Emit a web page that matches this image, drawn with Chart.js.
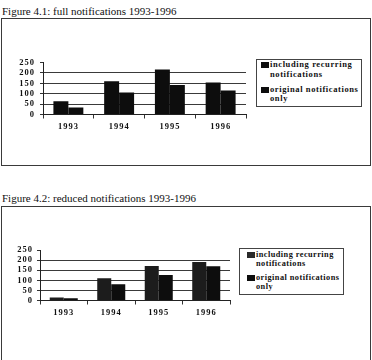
<!DOCTYPE html>
<html>
<head>
<meta charset="utf-8">
<script src="https://cdn.jsdelivr.net/npm/chart.js@4.4.0/dist/chart.umd.min.js"></script>
<style>
  body { margin:0; width:372px; height:360px; overflow:hidden; background:#fff; font-family:"Liberation Serif", serif; color:#111; }
  .title { position:absolute; left:2px; font-size:11px; line-height:11px; white-space:nowrap; }
  .frame { position:absolute; border:1.5px solid #3a3a3a; box-sizing:border-box; }
  .chart { position:absolute; }
  .legend { position:absolute; border:1px solid #444; box-sizing:border-box; font-weight:bold; }
  .legend .item { display:flex; align-items:flex-start; }
  .legend .sw { width:8px; height:6px; background:#111; flex:none; margin-top:2px; margin-right:1px; }
</style>
</head>
<body>
<div class="title" style="top:6px">Figure 4.1: full notifications 1993-1996</div>
<div class="frame" style="left:1px;top:18px;width:370px;height:148px"></div>
<div class="chart" style="left:0;top:40px;width:252px;height:100px"><canvas id="c1"></canvas></div>
<div class="legend" id="lg1" style="left:256px;top:59px;width:106px;height:48px;font-size:8.5px;line-height:9.5px;letter-spacing:.6px;padding:0 0 0 4px"></div>

<div class="title" style="top:193px">Figure 4.2: reduced notifications 1993-1996</div>
<div class="frame" style="left:1px;top:206px;width:370px;height:170px"></div>
<div class="chart" style="left:0;top:228px;width:236px;height:100px"><canvas id="c2"></canvas></div>
<div class="legend" id="lg2" style="left:239px;top:248px;width:105px;height:47px;font-size:8.3px;line-height:9.3px;letter-spacing:.45px;padding:1px 0 0 7px"></div>

<script>
const years = ['1993', '1994', '1995', '1996'];
const seriesLabels = ['including recurring notifications', 'original notifications only'];
const fullIncl = [64, 160, 216, 154];
const fullOrig = [34, 106, 142, 115];
const reducedIncl = [15, 110, 171, 190];
const reducedOrig = [11, 80, 126, 170];
const yTicks = [0, 50, 100, 150, 200, 250];

// canvas text gets the same spaced-out look as the scan
const spacing = {
  id: 'spacing',
  beforeLayout: c => { c.ctx.letterSpacing = '1px'; },
  beforeDraw: c => { c.ctx.letterSpacing = '1px'; },
};

function barChart(id, a, b, cfg) {
  const tickFont = { family: 'Liberation Serif', size: 8.5, weight: 'bold' };
  return new Chart(document.getElementById(id), {
    type: 'bar',
    data: {
      labels: years,
      datasets: [
        { label: seriesLabels[0], data: a, backgroundColor: cfg.colorA, borderWidth: 0 },
        { label: seriesLabels[1], data: b, backgroundColor: '#0d0d0d', borderWidth: 0 },
      ],
    },
    options: {
      responsive: true, maintainAspectRatio: false, animation: false,
      categoryPercentage: 0.59, barPercentage: 1.0,
      layout: { padding: cfg.padding },
      plugins: { legend: { display: false }, tooltip: { enabled: false } },
      scales: {
        x: {
          // labels are clipped to the scale box, so keep it tall enough
          afterFit: s => { s.height = 22; },
          grid: { offset: true, drawOnChartArea: false, tickLength: 4, color: '#333' },
          border: { color: '#222', width: 1 },
          ticks: { color: '#111', font: tickFont, padding: 3, maxRotation: 0, autoSkip: false },
        },
        y: {
          min: yTicks[0], max: yTicks[yTicks.length - 1],
          afterFit: s => { s.width = cfg.axisW; },
          afterBuildTicks: s => { s.ticks = yTicks.map(v => ({ value: v })); },
          grid: {
            color: ctx => (ctx.tick && ctx.tick.value === 250 ? 'rgba(0,0,0,0)' : '#3a3a3a'),
            tickColor: '#333', tickLength: 3, lineWidth: 1,
          },
          border: { color: '#222', width: 1 },
          ticks: { color: '#111', font: tickFont, padding: cfg.tickPad, autoSkip: false },
        },
      },
    },
    plugins: [spacing],
  });
}

function legend(id, colors, gap) {
  document.getElementById(id).innerHTML = seriesLabels.map((l, i) => `
    <div class="item" style="margin-bottom:${i === 0 ? gap : 0}px">
      <span class="sw" style="background:${colors[i]}"></span>
      <span>${l}</span>
    </div>`).join('');
}

barChart('c1', fullIncl, fullOrig, {
  colorA: '#0d0d0d', axisW: 43, tickPad: 5,
  padding: { top: 22.5, right: 6, bottom: 3.5, left: 0 },
});
barChart('c2', reducedIncl, reducedOrig, {
  colorA: '#1c1c1c', axisW: 40, tickPad: 4,
  padding: { top: 22, right: 6, bottom: 5.5, left: 0 },
});
legend('lg1', ['#0d0d0d', '#0d0d0d'], 5.5);
legend('lg2', ['#2a2a2a', '#0d0d0d'], 4.5);
</script>
</body>
</html>
